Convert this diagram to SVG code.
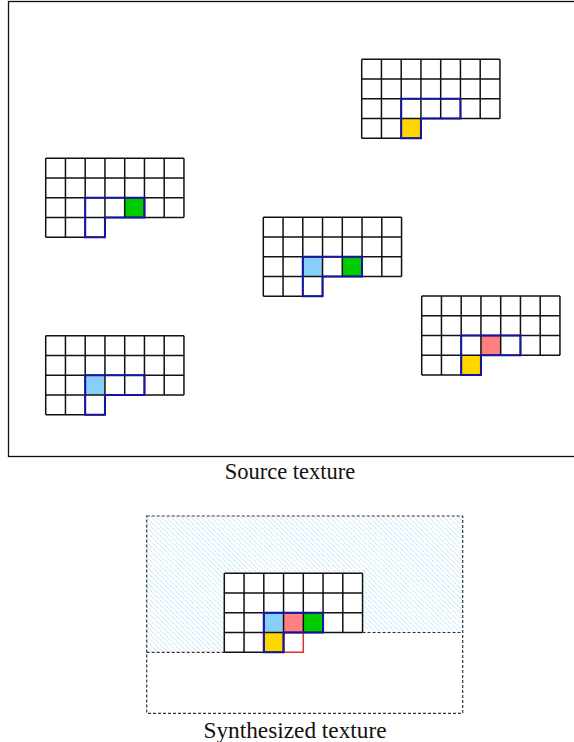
<svg xmlns="http://www.w3.org/2000/svg" xmlns:xlink="http://www.w3.org/1999/xlink" width="574" height="742" viewBox="0 0 574 742">
<style>
.grid{fill:none;stroke:#111;stroke-width:1.5}
.sel{fill:none;stroke:#1414a0;stroke-width:2}
.red{fill:none;stroke:#e82a2a;stroke-width:1.5}
.dash{fill:none;stroke:#333;stroke-width:1.2;stroke-dasharray:3 2}
.lbl{font-family:"Liberation Serif","Times New Roman",serif;font-size:22.5px;fill:#111;text-anchor:middle}
.y{fill:#ffd700}.g{fill:#00cc00}.b{fill:#87cefa}.p{fill:#ff8080}
</style>
<defs>
<path id="gl" d="M0,0H138.25M0,19.75H138.25M0,39.5H138.25M0,59.25H138.25M0,79H59.25M0,0V79M19.75,0V79M39.5,0V79M59.25,0V79M79,0V59.25M98.75,0V59.25M118.5,0V59.25M138.25,0V59.25"/>
<path id="sl" d="M39.5,39.5H98.75V59.25H59.25V79H39.5Z"/>
<pattern id="hatch" patternUnits="userSpaceOnUse" width="3.5" height="3.5" patternTransform="rotate(-45)">
<line x1="0" y1="0" x2="0" y2="3.5" stroke="#8fd0f5" stroke-width="1.2" stroke-dasharray="1.2 0.6"/>
</pattern>
</defs>
<rect x="8.5" y="1.5" width="570" height="455" fill="#fff" stroke="#111" stroke-width="1.3"/>
<g id="grid1" transform="translate(361.7,59.3)">
<rect class="y" x="39.5" y="59.25" width="19.75" height="19.75"/>
<use href="#gl" class="grid"/><use href="#sl" class="sel"/>
</g>
<g id="grid2" transform="translate(45.7,158.3)">
<rect class="g" x="79" y="39.5" width="19.75" height="19.75"/>
<use href="#gl" class="grid"/><use href="#sl" class="sel"/>
</g>
<g id="grid3" transform="translate(263.3,217.3)">
<rect class="b" x="39.5" y="39.5" width="19.75" height="19.75"/>
<rect class="g" x="79" y="39.5" width="19.75" height="19.75"/>
<use href="#gl" class="grid"/><use href="#sl" class="sel"/>
</g>
<g id="grid4" transform="translate(421.7,296)">
<rect class="p" x="59.25" y="39.5" width="19.75" height="19.75"/>
<rect class="y" x="39.5" y="59.25" width="19.75" height="19.75"/>
<use href="#gl" class="grid"/><use href="#sl" class="sel"/>
</g>
<g id="grid5" transform="translate(45.7,335.7)">
<rect class="b" x="39.5" y="39.5" width="19.75" height="19.75"/>
<use href="#gl" class="grid"/><use href="#sl" class="sel"/>
</g>
<text class="lbl" x="290" y="479">Source texture</text>
<g id="synth">
<path d="M146.7,516H462.7V632.5H224.3V652.3H146.7Z" fill="url(#hatch)"/>
<rect class="dash" x="146.7" y="516" width="316" height="197.3"/>
<path class="dash" d="M362.5,632.5H462.7M146.7,652.3H224.3"/>
<g id="grid6" transform="translate(224.3,573.2)">
<path d="M0,0H138.25V59.25H59.25V79H0Z" fill="#fff"/>
<rect class="b" x="39.5" y="39.5" width="19.75" height="19.75"/>
<rect class="p" x="59.25" y="39.5" width="19.75" height="19.75"/>
<rect class="g" x="79" y="39.5" width="19.75" height="19.75"/>
<rect class="y" x="39.5" y="59.25" width="19.75" height="19.75"/>
<use href="#gl" class="grid"/>
<rect class="red" x="59.25" y="59.25" width="19.75" height="19.75"/>
<use href="#sl" class="sel"/>
</g>
</g>
<text class="lbl" x="295" y="738" style="font-size:23.3px">Synthesized texture</text>
</svg>
